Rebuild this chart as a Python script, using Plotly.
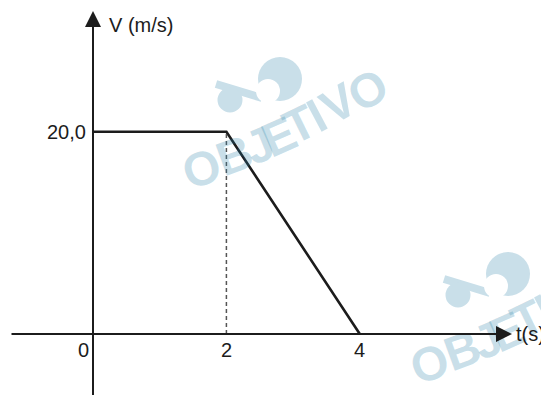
import plotly.graph_objects as go

# v(t) graph data
t = [0, 2, 4]
v = [20, 20, 0]
x_ticks = [0, 2, 4]
x_tick_labels = ["0", "2", "4"]
y_tick_vals = [20]
y_tick_labels = ["20,0"]

W, H = 549, 395
# the page body adds an 8px margin, so the plot is laid out 8px up/left
OFF = 8
X0_PX, PX_PER_S = 93, 66.7      # where t=0 sits, pixels per second
Y0_PX, PX_PER_V = 334, 10.115   # where v=0 sits, pixels per m/s

X_RANGE = [(OFF - X0_PX) / PX_PER_S, (W + OFF - X0_PX) / PX_PER_S]
Y_RANGE = [(Y0_PX - H - OFF) / PX_PER_V, (Y0_PX - OFF) / PX_PER_V]

FONT = "Liberation Sans, Arial, sans-serif"
INK = "#1c1c1c"
WM = "#c9dfe9"
# annotations sit above the traces, so the watermark letters are drawn
# translucent: light blue on white, but the black lines still show through
WM_TEXT = "rgba(39,127,167,0.25)"


def dt(xp):
    return (xp - X0_PX) / PX_PER_S


def dv(yp):
    return (Y0_PX - yp) / PX_PER_V


fig = go.Figure()

# the v(t) polyline
fig.add_trace(go.Scatter(
    x=t, y=v, mode="lines",
    line=dict(color=INK, width=2.6), hoverinfo="skip", showlegend=False
))

shapes = []
annotations = []

# watermark "OBJETIVO" logo (twice)
letters = [("O", 201.7, 168.3), ("B", 234, 155), ("J", 259, 145),
           ("E", 279.3, 136), ("T", 299, 124), ("I", 316.7, 115),
           ("V", 338, 103), ("O", 367.3, 90)]
for dx, dy in [(0, 0), (228, 195)]:
    shapes.append(dict(type="line", xref="x", yref="y",
                       x0=dt(216 + dx), y0=dv(84 + dy),
                       x1=dt(262 + dx), y1=dv(98 + dy), layer="below",
                       line=dict(color=WM, width=8)))
    for cx, cy, r, col in [(280, 79, 22, WM), (268, 91, 12, "white"),
                           (230, 100, 12.5, WM)]:
        shapes.append(dict(type="circle", xref="x", yref="y",
                           x0=dt(cx + dx - r), y0=dv(cy + dy + r),
                           x1=dt(cx + dx + r), y1=dv(cy + dy - r),
                           layer="below", fillcolor=col, line=dict(width=0)))
    n = len(letters)
    for i, (ch, lx, ly) in enumerate(letters):
        annotations.append(dict(x=dt(lx + dx), y=dv(ly + dy), xref="x",
                                yref="y", text="<b>" + ch + "</b>",
                                showarrow=False,
                                textangle=-18 - 14 * i / (n - 1),
                                font=dict(family=FONT, size=48,
                                          color=WM_TEXT)))

# dashed guide at t=2
shapes.append(dict(type="line", xref="x", yref="y", x0=t[1], y0=0,
                   x1=t[1], y1=v[1],
                   line=dict(color="#555555", width=1.5, dash="4px,3px")))

# axes with arrowheads
annotations.append(dict(x=dt(512), y=0, ax=dt(10), ay=0, xref="x", yref="y",
                        axref="x", ayref="y", text="", showarrow=True,
                        arrowhead=2, arrowsize=1.6, arrowwidth=2,
                        arrowcolor=INK))
annotations.append(dict(x=0, y=dv(11), ax=0, ay=Y_RANGE[0], xref="x",
                        yref="y", axref="x", ayref="y", text="",
                        showarrow=True, arrowhead=2, arrowsize=1.6,
                        arrowwidth=2, arrowcolor=INK))

# tick labels
for xv, lab in zip(x_ticks, x_tick_labels):
    annotations.append(dict(x=xv, y=0, xref="x", yref="y", text=lab,
                            showarrow=False, yanchor="top", yshift=-3,
                            xshift=-10 if xv == 0 else 0,
                            font=dict(family=FONT, size=20, color=INK)))
for yv, lab in zip(y_tick_vals, y_tick_labels):
    annotations.append(dict(x=0, y=yv, xref="x", yref="y", text=lab,
                            showarrow=False, xanchor="right", xshift=-5,
                            font=dict(family=FONT, size=20, color=INK)))

# axis titles
annotations.append(dict(x=0, y=dv(25), xref="x", yref="y", text="V (m/s)",
                        showarrow=False, xanchor="left", xshift=14,
                        font=dict(family=FONT, size=20, color=INK)))
annotations.append(dict(x=dt(514), y=0, xref="x", yref="y", text="t(s)",
                        showarrow=False, xanchor="left",
                        font=dict(family=FONT, size=20, color=INK)))

fig.update_layout(
    width=W, height=H,
    margin=dict(l=0, r=0, t=0, b=0),
    paper_bgcolor="white", plot_bgcolor="white",
    xaxis=dict(range=X_RANGE, visible=False, fixedrange=True),
    yaxis=dict(range=Y_RANGE, visible=False, fixedrange=True),
    shapes=shapes, annotations=annotations,
    showlegend=False,
)

fig.write_html("out.html")
